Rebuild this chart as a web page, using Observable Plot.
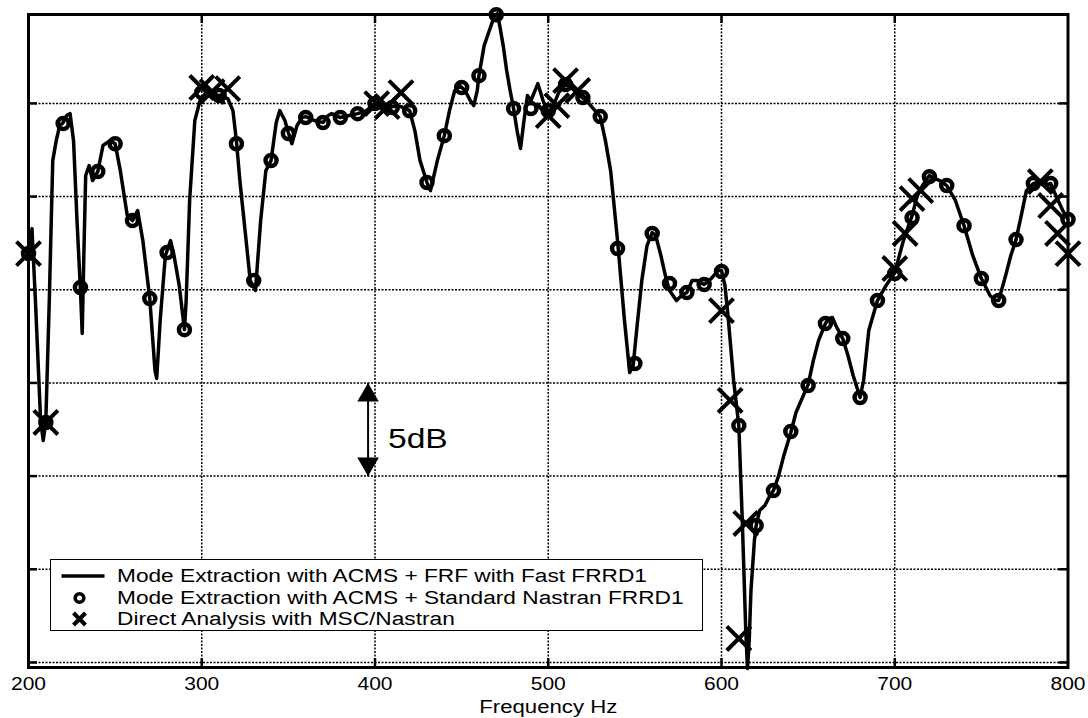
<!DOCTYPE html>
<html><head><meta charset="utf-8">
<script src="https://cdn.jsdelivr.net/npm/d3@7"></script>
<script src="https://cdn.jsdelivr.net/npm/@observablehq/plot@0.6"></script>
<style>
html,body{margin:0;padding:0;background:#fff;}
#wrap{position:relative;width:1088px;height:718px;}
#legend{position:absolute;left:50px;top:559px;width:651px;height:70px;border:1.5px solid #000;background:#fff;font-family:"Liberation Sans",Arial,sans-serif;font-size:18px;color:#000;}
.row{position:absolute;left:0;height:22px;width:100%;}
.row svg{position:absolute;left:0;top:0;}
.row span{position:absolute;left:66px;top:0;line-height:22px;white-space:nowrap;transform:scaleX(1.26);transform-origin:0 50%;}
</style>
</head><body>
<div id="wrap"></div>
<script>
// ---- data (frequency in Hz, level in relative dB; one grid division = 5 dB) ----
const lineHz = [200,202,204,207,208.5,210,212,214,216,218,220,222,224,226,228,230,231,232,233,235,237,240,243,247,250,253,257,260,263,266,270,273,274,276,279,281,282,284,287,290,291,293,296,299,302,305,310,315,318,320,322,325,328,331,334,337,340,343,345,348,350,352,355,358,360,365,370,373,375,380,385,390,395,400,405,410,415,420,423,426,430,432,436,440,443,446,449,452,455,457,459,460,463,466,469,470.5,472,474,476,478,480,482,484,486,488,490,494,497,500,503,506,510,514,518,522,526,530,533,536,540,544,547,549,551,554,557,560,562,565,568,570,574,577,580,583,586,590,594,598,600,602,604,607,610,612,614,615,616,617,619,620,622,625,628,630,633,636,640,643,646,650,653,656,660,662,664,666,670,673,676,680,682,685,690,695,700,705,710,713,716,720,723,726,730,735,740,745,750,755,758,760,764,767,770,773,776,780,783,786,790,793,797,800];
const lineDb = [21.94,23.28,19.42,12.98,11.91,12.98,19.42,26.93,28.00,28.81,28.97,29.35,29.45,28.00,23.71,19.96,17.65,22.10,26.13,26.66,25.86,26.34,27.74,28.00,27.84,26.39,23.98,23.71,24.25,22.64,19.53,15.67,15.24,18.35,21.84,22.37,22.64,21.84,20.23,17.86,19.42,24.79,29.08,30.15,30.53,30.53,30.42,30.26,29.61,28.00,25.86,23.18,20.49,19.96,23.71,26.39,26.93,28.97,29.61,29.08,28.43,27.84,28.81,29.24,29.29,29.08,28.97,29.35,29.45,29.24,29.35,29.45,29.61,29.99,29.88,29.83,29.83,29.61,28.54,26.93,25.75,25.32,26.93,28.27,29.61,30.69,30.95,30.69,30.15,29.88,30.69,31.49,33.10,33.91,34.71,34.82,34.17,33.10,31.76,30.69,29.72,28.54,27.58,29.08,30.42,30.15,31.06,30.15,29.51,29.88,30.58,31.01,30.79,30.42,30.15,29.72,29.29,28.00,26.39,22.64,18.35,15.56,15.93,17.81,20.49,22.37,23.07,22.91,21.84,20.60,19.96,19.42,19.69,19.85,20.49,20.49,20.28,20.60,21.03,21.03,20.23,18.35,15.13,12.71,7.62,1.72,-0.32,1.18,3.86,6.55,7.35,8.15,8.42,8.96,9.23,10.03,11.11,12.34,13.41,14.06,14.91,16.20,17.27,18.19,18.45,18.51,18.08,17.38,16.47,15.40,14.22,15.13,17.81,19.42,20.23,20.92,22.64,23.98,25.05,25.59,26.13,25.97,25.86,25.59,24.79,23.44,21.84,20.60,19.69,19.42,19.42,20.76,21.84,22.69,23.98,25.32,25.70,25.80,25.59,25.70,25.05,24.25,23.77];

const stdHz = [200,210,220,230,240,250,260,270,280,290,300,310,320,330,340,350,360,370,380,390,400,410,420,430,440,450,460,470,480,490,500,510,520,530,540,550,560,570,580,590,600,610,620,630,640,650,660,670,680,690,700,710,720,730,740,750,760,770,780,790,800];
const stdDb = [21.94,12.88,28.92,20.12,26.34,27.84,23.71,19.53,22.00,17.86,30.58,30.42,27.84,20.49,26.93,28.38,29.24,28.97,29.24,29.45,29.99,29.78,29.61,25.75,28.27,30.85,31.49,34.76,29.72,29.72,29.61,31.01,30.31,29.29,22.21,16.04,23.02,20.33,19.85,20.28,20.98,12.71,7.35,9.23,12.39,14.86,18.19,17.38,14.22,19.42,20.87,23.87,26.07,25.59,23.44,20.60,19.42,22.69,25.70,25.70,23.77];

const directHz = [200,210,300,306,315,401,407,415,500,505,510,517,600,605,610,614,700,706,710,715,784,790,794,800];
const directDb = [21.94,12.88,30.85,30.63,30.79,29.99,29.83,30.58,29.35,29.88,31.22,30.69,18.88,14.06,1.29,7.46,21.14,23.02,24.89,25.32,25.80,24.52,23.02,21.94];

const xTicks = [200,300,400,500,600,700,800];
const xGrid = [300,400,500,600,700];
const yGrid = [0,5,10,15,20,25,30];
const yDomain = [-0.27, 34.77];
const xLabel = "Frequency Hz";

const scaleBar = [{hz: 396, from: 10, to: 15, labelHz: 407.5, labelDb: 12, text: "5dB"}];

const legendItems = [
  {kind: "line", label: "Mode Extraction with ACMS + FRF with Fast FRRD1"},
  {kind: "circle", label: "Mode Extraction with ACMS + Standard Nastran FRRD1"},
  {kind: "x", label: "Direct Analysis with MSC/Nastran"}
];

// ---- build ----
const lineData = lineHz.map((h, i) => ({hz: h, db: lineDb[i]}));
const stdData = stdHz.map((h, i) => ({hz: h, db: stdDb[i]}));
const directData = directHz.map((h, i) => ({hz: h, db: directDb[i]}));

const W = 1088, H = 718, mL = 28, mR = 20.5, mT = 14, mB = 51;
const innerW = W - mL - mR, innerH = H - mT - mB;
const tickLen = 9;

const plot = Plot.plot({
  width: W, height: H,
  marginLeft: mL, marginRight: mR, marginTop: mT, marginBottom: mB,
  style: {fontFamily: "'Liberation Sans', Arial, sans-serif", fontSize: "17.5px", color: "black", background: "white", overflow: "visible"},
  x: {domain: [200, 800], ticks: xTicks, tickSize: 0, tickPadding: 10, label: null, tickFormat: d => String(d)},
  y: {domain: yDomain, axis: null},
  marks: [
    Plot.ruleX(xGrid, {x: d => d, stroke: "black", strokeWidth: 1.5, strokeDasharray: "2,1.5"}),
    Plot.ruleY(yGrid, {y: d => d, stroke: "black", strokeWidth: 1.5, strokeDasharray: "2,1.5"}),
    Plot.tickY(yGrid, {y: d => d, stroke: "black", strokeWidth: 2.5, insetRight: innerW - tickLen}),
    Plot.tickY(yGrid, {y: d => d, stroke: "black", strokeWidth: 2.5, insetLeft: innerW - tickLen}),
    Plot.tickX(xGrid, {x: d => d, stroke: "black", strokeWidth: 2.5, insetTop: innerH - tickLen}),
    Plot.tickX(xGrid, {x: d => d, stroke: "black", strokeWidth: 2.5, insetBottom: innerH - tickLen}),
    Plot.frame({stroke: "black", strokeWidth: 3}),
    Plot.line(lineData, {x: "hz", y: "db", stroke: "black", strokeWidth: 3.5, strokeLinejoin: "round"}),
    Plot.dot(stdData, {x: "hz", y: "db", r: 5.5, stroke: "black", strokeWidth: 4.5, fill: "none"}),
    Plot.dot(directData, {x: "hz", y: "db", r: 11, symbol: "times", stroke: "black", strokeWidth: 4}),
    // 5 dB scale bar
    Plot.link(scaleBar, {x1: "hz", x2: "hz", y1: "from", y2: "to", stroke: "black", strokeWidth: 2}),
    Plot.dot(scaleBar, {x: "hz", y: "to", symbol: "triangle", r: 8, fill: "black", stroke: "none", dy: 12.4}),
    Plot.dot(scaleBar, {x: "hz", y: "from", symbol: "triangle", r: 8, fill: "black", stroke: "none", rotate: 180, dy: -12.4}),
    Plot.text(scaleBar, {x: "labelHz", y: "labelDb", text: "text", textAnchor: "start", fontSize: 28, fill: "black"}),
    Plot.text([xLabel], {frameAnchor: "bottom", text: d => d, dy: 45, fontSize: 18.5, fill: "black"})
  ]
});

// horizontal stretch of the lettering (scale about each text's own anchor)
const S = 1.2;
plot.querySelectorAll("text").forEach(t => {
  const x = parseFloat(t.getAttribute("x"));
  const x0 = isFinite(x) ? x : 0;
  const tr = t.getAttribute("transform") || "";
  t.setAttribute("transform", `${tr} translate(${x0},0) scale(${S},1) translate(${-x0},0)`.trim());
});

const wrap = document.getElementById("wrap");
wrap.appendChild(plot);

// legend box inside the plot area
const legend = document.createElement("div");
legend.id = "legend";
const rowCenters = [15.5, 37.5, 59];
legendItems.forEach((item, i) => {
  const row = document.createElement("div");
  row.className = "row";
  row.style.top = (rowCenters[i] - 11) + "px";
  let sym = "";
  if (item.kind === "line") sym = `<line x1="10.5" x2="53.5" y1="11" y2="11" stroke="black" stroke-width="3.5"/>`;
  else if (item.kind === "circle") sym = `<circle cx="28.5" cy="11" r="4.3" fill="none" stroke="black" stroke-width="3.6"/>`;
  else sym = `<path d="M22.5,5L34.5,17M22.5,17L34.5,5" stroke="black" stroke-width="4"/>`;
  row.innerHTML = `<svg width="60" height="22">${sym}</svg><span>${item.label}</span>`;
  legend.appendChild(row);
});
wrap.appendChild(legend);
</script>
</body></html>
